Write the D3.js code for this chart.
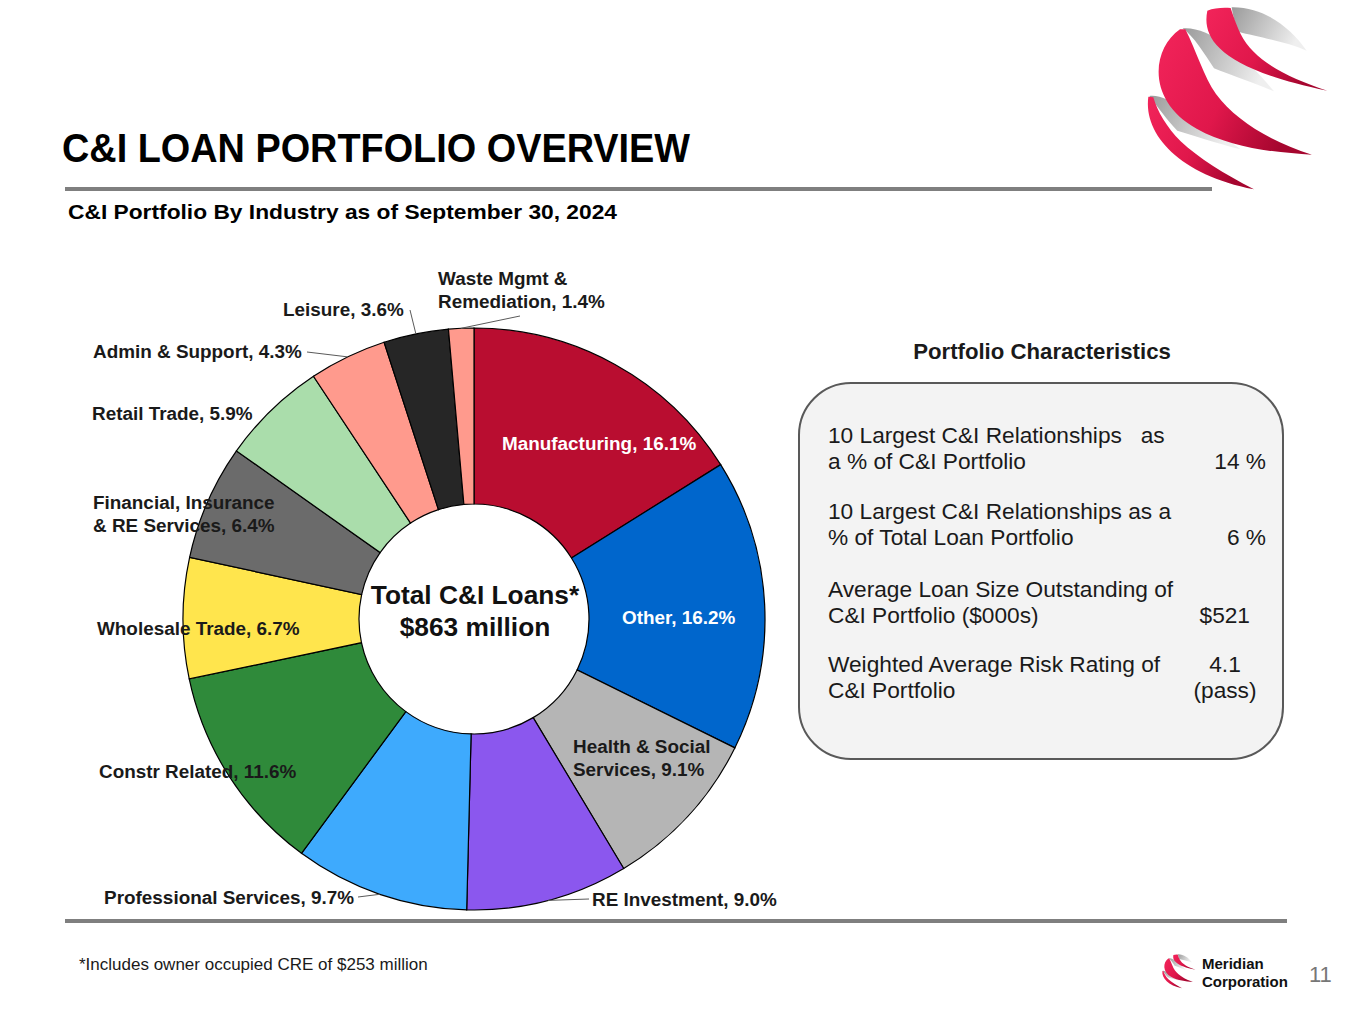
<!DOCTYPE html>
<html>
<head>
<meta charset="utf-8">
<script src="https://cdn.jsdelivr.net/npm/d3@7.9.0/dist/d3.min.js"></script>
<style>
  body { margin: 0; background: #fff; }
  svg { display: block; font-family: "Liberation Sans", Arial, sans-serif; }
  text { white-space: pre; }
</style>
</head>
<body>
<svg id="chart" width="1365" height="1024"></svg>
<script>
// Industry breakdown of the C&I book, clockwise from 12 o'clock
const categories = [
  'Manufacturing', 'Other', 'Health & Social Services', 'RE Investment',
  'Professional Services', 'Constr Related', 'Wholesale Trade',
  'Financial, Insurance & RE Services', 'Retail Trade', 'Admin & Support',
  'Leisure', 'Waste Mgmt & Remediation'
];
const shares = [16.1, 16.2, 9.1, 9.0, 9.7, 11.6, 6.7, 6.4, 5.9, 4.3, 3.6, 1.4];

const centerLines = ['Total C&I Loans*', '$863 million'];

// Portfolio characteristics box
const charLabels = [
  ['10 Largest C&I Relationships   as', 'a % of C&I Portfolio'],
  ['10 Largest C&I Relationships as a', '% of Total Loan Portfolio'],
  ['Average Loan Size Outstanding of', 'C&I Portfolio ($000s)'],
  ['Weighted Average Risk Rating of', 'C&I Portfolio']
];
const charValues = [['', '14 %'], ['', '6 %'], ['', '$521'], ['4.1', '(pass)']];

// styles / layout (kept apart from the data)
const palette = ['#B90D30', '#0066CC', '#B5B5B5', '#8B57EE', '#3EAAFD', '#2F8A3A',
  '#FFE54D', '#6B6B6B', '#AADDAB', '#FF9A8D', '#262626', '#FF9A8D'];

const labelLayout = [
  { x: 502, y: 450, fill: '#fff' },
  { x: 622, y: 624, fill: '#fff' },
  { x: 573, y: 753, br: 'Health & Social' },
  { x: 592, y: 906, leader: [589, 899] },
  { x: 354, y: 904, anchor: 'end', leader: [358, 897] },
  { x: 99, y: 778 },
  { x: 97, y: 635 },
  { x: 93, y: 509, br: 'Financial, Insurance' },
  { x: 92, y: 420 },
  { x: 93, y: 358, leader: [307, 352] },
  { x: 283, y: 316, leader: [410, 310] },
  { x: 438, y: 285, br: 'Waste Mgmt &', leader: [520, 316] }
];

const charValueLayout = [
  { x: 1266, anchor: 'end' }, { x: 1266, anchor: 'end' },
  { x: 1250, anchor: 'end' }, { x: 1225, anchor: 'middle' }
];
const charRowTop = [443, 519, 597, 672];

const svg = d3.select('#chart');

// ---------- header ----------
svg.append('text')
  .attr('x', 62).attr('y', 162)
  .attr('font-size', 41).attr('font-weight', 'bold')
  .attr('textLength', 628).attr('lengthAdjust', 'spacingAndGlyphs')
  .text('C&I LOAN PORTFOLIO OVERVIEW');

svg.append('rect').attr('x', 65).attr('y', 187).attr('width', 1147).attr('height', 4).attr('fill', '#7f7f7f');

svg.append('text')
  .attr('x', 68).attr('y', 219)
  .attr('font-size', 21).attr('font-weight', 'bold')
  .attr('textLength', 549).attr('lengthAdjust', 'spacingAndGlyphs')
  .text('C&I Portfolio By Industry as of September 30, 2024');

svg.append('rect').attr('x', 65).attr('y', 919).attr('width', 1222).attr('height', 4).attr('fill', '#7f7f7f');

// ---------- donut ----------
const cx = 474, cy = 619;
const outerR = 291, innerR = 115;

const pie = d3.pie().sort(null).value(d => d.value);
const arcs = pie(categories.map((c, i) => ({ name: c, value: shares[i], i })));

const arc = d3.arc().innerRadius(innerR).outerRadius(outerR);
const outerPoint = d3.arc().innerRadius(outerR).outerRadius(outerR);

const g = svg.append('g').attr('transform', `translate(${cx},${cy})`);

g.selectAll('path.slice')
  .data(arcs)
  .join('path')
  .attr('class', 'slice')
  .attr('d', arc)
  .attr('fill', d => palette[d.data.i])
  .attr('stroke', '#000')
  .attr('stroke-width', 1.2);

// leader lines from slice edge to label
arcs.forEach(d => {
  const lay = labelLayout[d.data.i];
  if (!lay.leader) return;
  const [px, py] = outerPoint.centroid(d);
  svg.append('line')
    .attr('x1', cx + px).attr('y1', cy + py)
    .attr('x2', lay.leader[0]).attr('y2', lay.leader[1])
    .attr('stroke', '#5a5a5a').attr('stroke-width', 1);
});

// slice labels
arcs.forEach(d => {
  const lay = labelLayout[d.data.i];
  const full = `${d.data.name}, ${d.data.value.toFixed(1)}%`;
  const lines = lay.br ? [lay.br, full.slice(lay.br.length).trim()] : [full];
  const t = svg.append('text')
    .attr('x', lay.x).attr('y', lay.y)
    .attr('font-size', 18.9).attr('font-weight', 'bold')
    .attr('fill', lay.fill || '#1a1a1a')
    .attr('text-anchor', lay.anchor || 'start');
  lines.forEach((l, k) => {
    t.append('tspan').attr('x', lay.x).attr('dy', k ? 23 : 0).text(l);
  });
});

// centre caption
centerLines.forEach((l, k) => {
  svg.append('text')
    .attr('x', cx + 1).attr('y', 604 + k * 32)
    .attr('text-anchor', 'middle')
    .attr('font-size', 26.3).attr('font-weight', 'bold')
    .attr('fill', '#111')
    .text(l);
});

// ---------- portfolio characteristics ----------
svg.append('text')
  .attr('x', 1042).attr('y', 359)
  .attr('text-anchor', 'middle')
  .attr('font-size', 22.2).attr('font-weight', 'bold')
  .attr('fill', '#1a1a1a')
  .text('Portfolio Characteristics');

svg.append('rect')
  .attr('x', 799).attr('y', 383).attr('width', 484).attr('height', 376)
  .attr('rx', 52).attr('ry', 52)
  .attr('fill', '#F3F3F3').attr('stroke', '#595959').attr('stroke-width', 2);

charLabels.forEach((rows, i) => {
  rows.forEach((l, k) => {
    svg.append('text')
      .attr('x', 828).attr('y', charRowTop[i] + k * 26)
      .attr('font-size', 22.7).attr('fill', '#1a1a1a')
      .text(l);
  });
  charValues[i].forEach((v, k) => {
    if (!v) return;
    svg.append('text')
      .attr('x', charValueLayout[i].x).attr('y', charRowTop[i] + k * 26)
      .attr('text-anchor', charValueLayout[i].anchor)
      .attr('font-size', 22.7).attr('fill', '#1a1a1a')
      .text(v);
  });
});

// ---------- footer ----------
svg.append('text')
  .attr('x', 79).attr('y', 970)
  .attr('font-size', 17).attr('fill', '#1a1a1a')
  .text('*Includes owner occupied CRE of $253 million');

svg.append('text')
  .attr('x', 1202).attr('y', 969)
  .attr('font-size', 15).attr('font-weight', 'bold').attr('fill', '#111')
  .text('Meridian');
svg.append('text')
  .attr('x', 1202).attr('y', 987)
  .attr('font-size', 15).attr('font-weight', 'bold').attr('fill', '#111')
  .text('Corporation');

svg.append('text')
  .attr('x', 1309).attr('y', 982)
  .attr('font-size', 22).attr('fill', '#777')
  .text('11');

// ---------- logo ----------
const defs = svg.append('defs');
const redGrad = defs.append('linearGradient').attr('id', 'logoRed')
  .attr('x1', '0%').attr('y1', '0%').attr('x2', '100%').attr('y2', '40%');
redGrad.append('stop').attr('offset', '0%').attr('stop-color', '#F2245A');
redGrad.append('stop').attr('offset', '55%').attr('stop-color', '#E0174B');
redGrad.append('stop').attr('offset', '100%').attr('stop-color', '#A6062F');
const grayGrad = defs.append('linearGradient').attr('id', 'logoGray')
  .attr('x1', '0%').attr('y1', '0%').attr('x2', '100%').attr('y2', '30%');
grayGrad.append('stop').attr('offset', '0%').attr('stop-color', '#9a9a9a');
grayGrad.append('stop').attr('offset', '100%').attr('stop-color', '#efefef');

const logoGray = [
  'M305,22 C400,20 480,80 530,152 C470,125 380,110 325,95 C315,70 308,45 305,22 Z',
  'M158,85 C235,78 340,160 432,274 C360,245 295,222 252,205 C222,160 192,110 158,85 Z',
  'M58,288 C112,280 195,350 332,448 C255,428 185,405 142,392 C110,360 85,322 58,288 Z'
];
const logoRed = [
  'M232,32 C215,115 268,205 592,272 C470,232 372,182 332,102 C318,72 308,42 302,24 C278,22 252,24 232,32 Z',
  'M150,88 C62,150 52,305 200,386 C300,442 430,458 546,464 C420,424 318,362 258,282 C222,232 198,150 166,88 Z',
  'M55,290 C40,405 150,524 372,568 C282,522 205,474 152,424 C110,382 82,334 70,292 Z'
];

function drawLogo(transform) {
  const lg = svg.append('g').attr('transform', transform);
  logoGray.forEach(p => lg.append('path').attr('d', p).attr('fill', 'url(#logoGray)'));
  logoRed.forEach(p => lg.append('path').attr('d', p).attr('fill', 'url(#logoRed)'));
}
drawLogo('translate(1130,0) scale(0.3333)');
drawLogo('translate(1159,953) scale(0.062)');
</script>
</body>
</html>
